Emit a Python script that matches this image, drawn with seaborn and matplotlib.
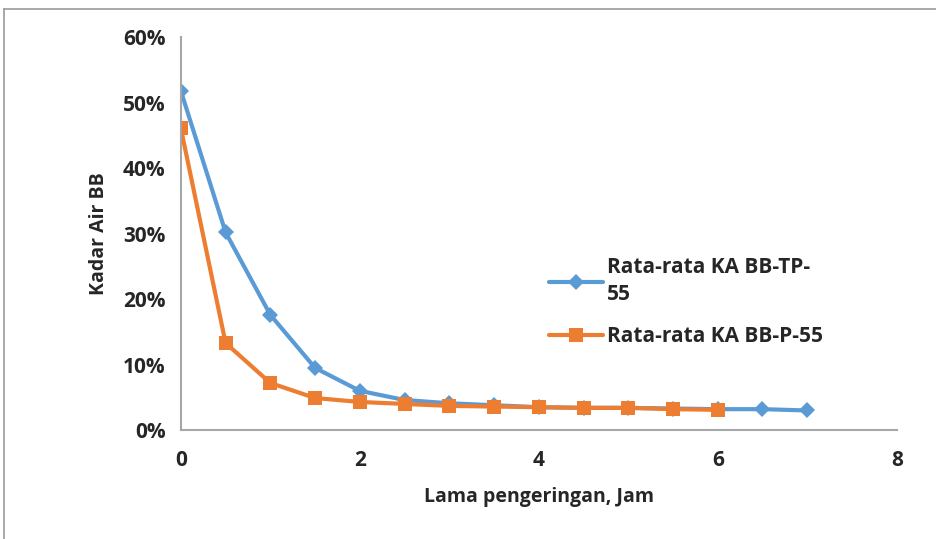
import pandas as pd
import numpy as np
import seaborn as sns
import matplotlib.pyplot as plt
from matplotlib.lines import Line2D
from matplotlib.ticker import PercentFormatter

sns.set_style('white')
plt.rcParams['font.family'] = ['Open Sans', 'DejaVu Sans']
plt.rcParams['font.weight'] = 'bold'

# data
jam_tp = [0, 0.5, 1, 1.5, 2, 2.5, 3, 3.5, 4, 4.5, 5, 5.5, 6, 6.5, 7]
ka_tp = [0.518, 0.302, 0.176, 0.095, 0.060, 0.046, 0.041, 0.038, 0.035, 0.034, 0.034, 0.033, 0.032, 0.032, 0.030]
jam_p = [0, 0.5, 1, 1.5, 2, 2.5, 3, 3.5, 4, 4.5, 5, 5.5, 6]
ka_p = [0.461, 0.133, 0.072, 0.049, 0.043, 0.040, 0.037, 0.036, 0.035, 0.034, 0.034, 0.032, 0.031]
label_tp = 'Rata-rata KA BB-TP-\n55'
label_p = 'Rata-rata KA BB-P-55'

df = pd.concat([
    pd.DataFrame({'jam': jam_tp, 'ka': ka_tp, 'seri': label_tp}),
    pd.DataFrame({'jam': jam_p, 'ka': ka_p, 'seri': label_p}),
])

fig = plt.figure(figsize=(9.37, 5.39), dpi=100)
ax = fig.add_axes([0.193, 0.202, 0.764, 0.729])

sns.lineplot(data=df, x='jam', y='ka', hue='seri', style='seri',
             palette={label_tp: '#5b9bd5', label_p: '#ed7d31'},
             markers={label_tp: 'D', label_p: 's'}, dashes=False,
             markersize=10, linewidth=3, markeredgewidth=0, ax=ax)
for ln in ax.lines:
    if ln.get_marker() == 'D':
        ln.set_markersize(8)

ax.set_xlim(0, 8)
ax.set_ylim(0, 0.6)
ax.set_xticks([0, 2, 4, 6, 8])
ax.set_yticks(np.arange(0, 0.61, 0.1))
ax.yaxis.set_major_formatter(PercentFormatter(1.0, decimals=0))
ax.tick_params(axis='both', direction='out', length=6, width=1, color='#a6a6a6',
               labelsize=15, pad=5)
ax.tick_params(axis='x', pad=8)
for s in ['top', 'right']:
    ax.spines[s].set_visible(False)
for s in ['left', 'bottom']:
    ax.spines[s].set_color('#a6a6a6')
    ax.spines[s].set_linewidth(1.5)

ax.set_xlabel('Lama pengeringan, Jam', fontsize=14, fontweight='bold', labelpad=12)
ax.set_ylabel('Kadar Air BB', fontsize=14, fontweight='bold', labelpad=10)

leg = ax.legend(loc='upper left', bbox_to_anchor=(0.566, 0.558),
                bbox_transform=fig.transFigure, frameon=False,
                fontsize=15, handlelength=2.6, labelspacing=1.0, handletextpad=0.2)
for t in leg.get_texts():
    t.set_fontweight('bold')
    t.set_linespacing(1.4)

# outer frame (top and left edge of the pasted chart)
fig.add_artist(Line2D([0.004, 1.0], [0.983, 0.983], color='#999999', lw=1.2, transform=fig.transFigure))
fig.add_artist(Line2D([0.004, 0.004], [0.0, 0.983], color='#999999', lw=1.2, transform=fig.transFigure))

fig.savefig('out.png', dpi=100)
